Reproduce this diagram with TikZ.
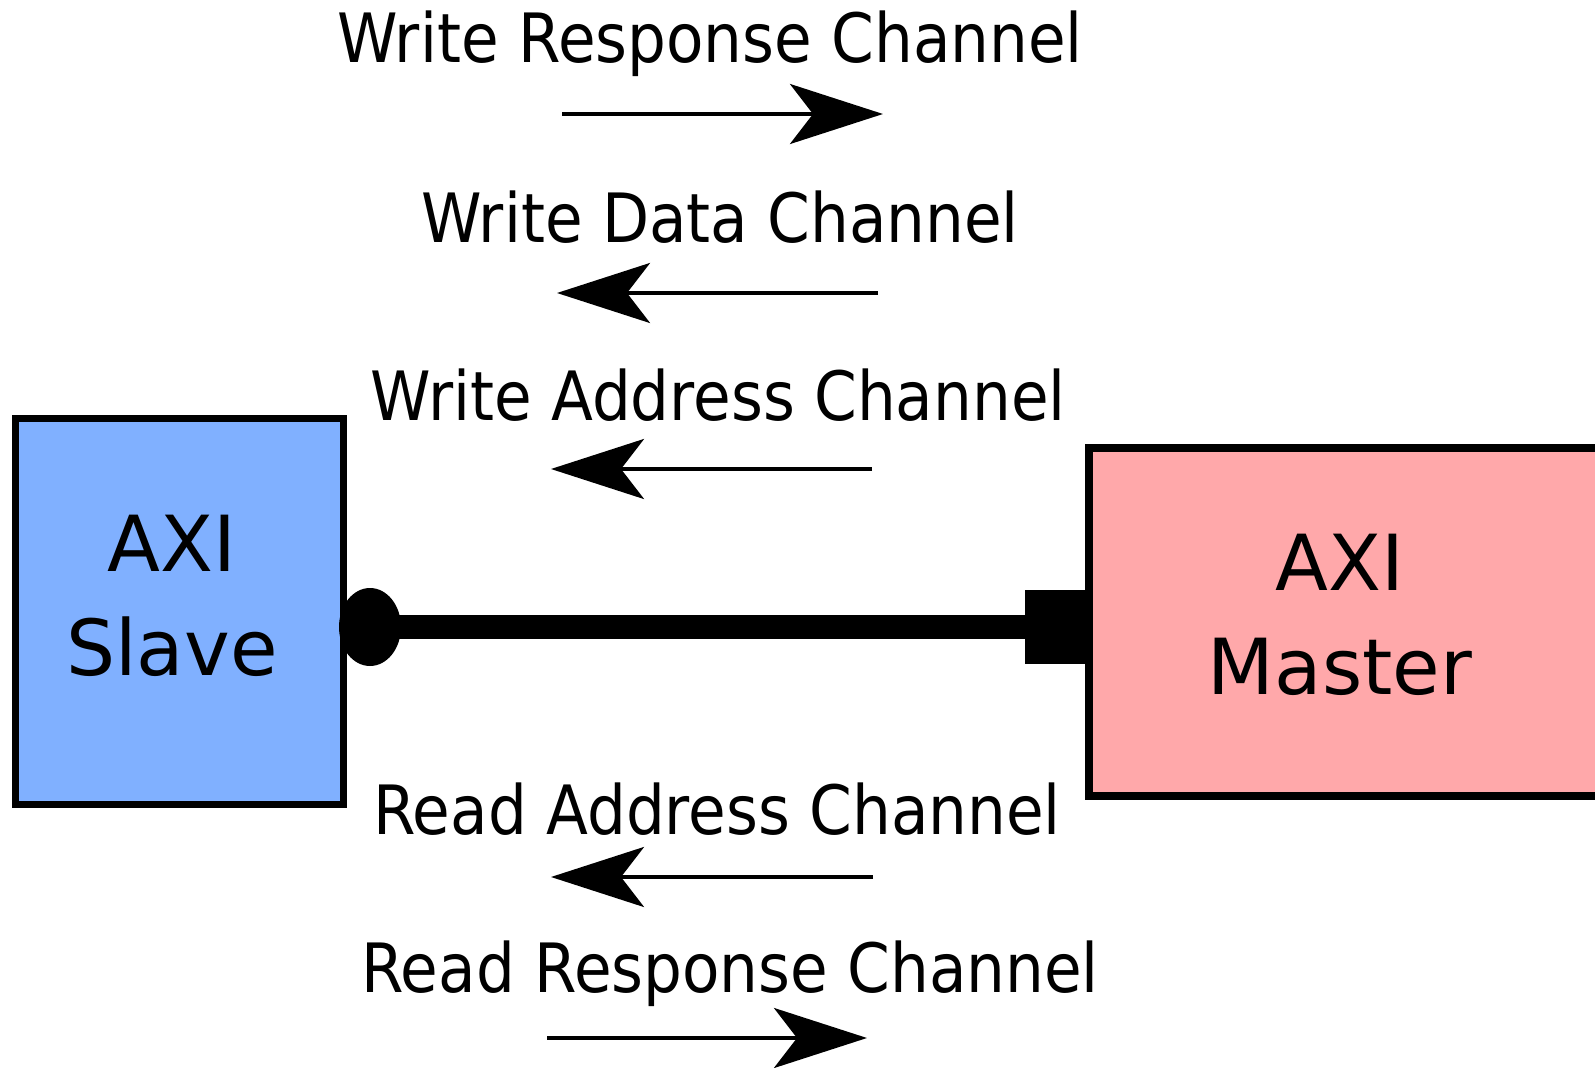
\documentclass[tikz,border=0pt]{standalone}
\usepackage{fontspec}
\setmainfont{DejaVu Sans}
\newfontfamily\chanfont[FakeStretch=0.9]{DejaVu Sans}
\usepackage{xcolor}
\usepackage{tikz}
\usetikzlibrary{shapes,arrows,positioning,calc,arrows.meta}

\definecolor{slaveblue}{RGB}{128,176,255}
\definecolor{masterpink}{RGB}{255,168,170}

\tikzset{
  axibox/.style={draw=black, line width=2.1pt, inner sep=0pt},
  boxtext/.style={align=center, inner sep=0pt, font=\fontsize{22}{29.6}\selectfont},
  chanlabel/.style={anchor=base, inner sep=0pt, font=\chanfont\fontsize{19.35}{23}\selectfont},
  chanarrow/.style={line width=1.1pt, -{Stealth[length=9.3mm,width=6mm,inset=2.3mm]}},
  bus/.style={line width=0.24cm}
}

\begin{document}
\begin{tikzpicture}
        \useasboundingbox (0,0) rectangle (15.95,10.67);

        % Slave and master blocks
        \node [axibox, fill=slaveblue, minimum width=3.28cm, minimum height=3.86cm] (slave) at (1.795,4.555) {};
        \node [boxtext] (slaveName) at (1.72,4.71) {AXI\\Slave};
        \node [axibox, fill=masterpink, minimum width=5.51cm, minimum height=3.48cm] (master) at (13.645,4.45) {};
        \node [boxtext] (masterName) at (13.40,4.525) {AXI\\Master};

        % Bus: dot on the slave side, square on the master side
        \draw [bus] (3.70,4.40) coordinate (busL) -- (10.57,4.40) coordinate (busR);
        \node [ellipse, fill=black, inner sep=0pt, minimum width=0.62cm, minimum height=0.78cm] (sdot) at (busL) {};
        \node [rectangle, fill=black, inner sep=0pt, minimum width=0.64cm, minimum height=0.74cm] (mport) at (busR) {};

        % Write channels
        \node [chanlabel] (wrespLabel) at (7.10,10.04) {Write Response Channel};
        \coordinate (wrespA) at (5.62,9.53);
        \coordinate (wrespB) at (8.83,9.53);
        \draw [chanarrow] (wrespA) -- (wrespB);

        \node [chanlabel] (wdataLabel) at (7.20,8.24) {Write Data Channel};
        \coordinate (wdataA) at (8.78,7.74);
        \coordinate (wdataB) at (5.57,7.74);
        \draw [chanarrow] (wdataA) -- (wdataB);

        \node [chanlabel] (waddrLabel) at (7.18,6.46) {Write Address Channel};
        \coordinate (waddrA) at (8.72,5.98);
        \coordinate (waddrB) at (5.51,5.98);
        \draw [chanarrow] (waddrA) -- (waddrB);

        % Read channels
        \node [chanlabel] (raddrLabel) at (7.17,2.33) {Read Address Channel};
        \coordinate (raddrA) at (8.73,1.90);
        \coordinate (raddrB) at (5.51,1.90);
        \draw [chanarrow] (raddrA) -- (raddrB);

        \node [chanlabel] (rrespLabel) at (7.30,0.75) {Read Response Channel};
        \coordinate (rrespA) at (5.47,0.29);
        \coordinate (rrespB) at (8.67,0.29);
        \draw [chanarrow] (rrespA) -- (rrespB);
    \end{tikzpicture}
\end{document}
